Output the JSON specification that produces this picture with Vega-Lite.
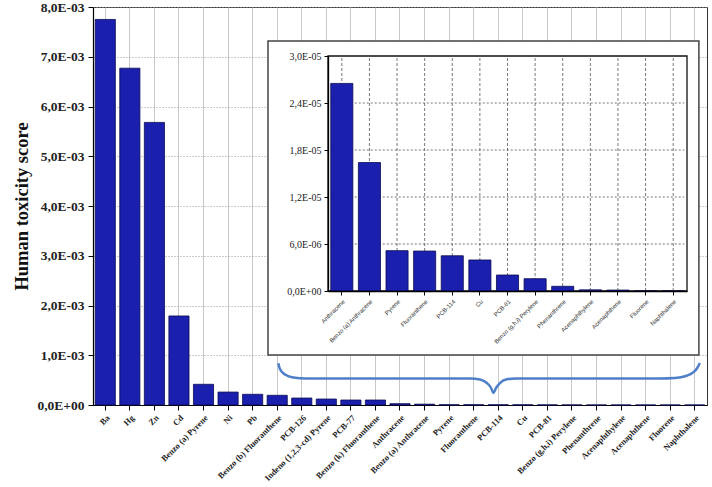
{
  "$schema": "https://vega.github.io/schema/vega-lite/v6.json",
  "width": 614,
  "height": 398,
  "autosize": {"type": "none"},
  "padding": {"left": 93, "top": 7, "right": 5, "bottom": 82},
  "background": "white",
  "config": {"view": {"stroke": "#333", "strokeWidth": 1}, "font": "Liberation Serif"},
  "datasets": {
    "main": [
      {"name": "Ba", "value": 0.00775},
      {"name": "Hg", "value": 0.00677},
      {"name": "Zn", "value": 0.00568},
      {"name": "Cd", "value": 0.00179},
      {"name": "Benzo (a) Pyrene", "value": 0.000416},
      {"name": "Ni", "value": 0.00026},
      {"name": "Pb", "value": 0.000215},
      {"name": "Benzo (b) Fluoranthene", "value": 0.000195},
      {"name": "PCB-126", "value": 0.00014},
      {"name": "Indeno (1,2,3-cd) Pyrene", "value": 0.00012},
      {"name": "PCB-77", "value": 0.0001},
      {"name": "Benzo (k) Fluoranthene", "value": 0.0001},
      {"name": "Anthracene", "value": 0.0000265},
      {"name": "Benzo (a) Anthracene", "value": 0.0000164},
      {"name": "Pyrene", "value": 0.00000515},
      {"name": "Fluoranthene", "value": 0.0000051},
      {"name": "PCB-114", "value": 0.0000045},
      {"name": "Cu", "value": 0.00000396},
      {"name": "PCB-81", "value": 0.00000204},
      {"name": "Benzo (g,h,i) Perylene", "value": 0.00000157},
      {"name": "Phenanthrene", "value": 0.0000006},
      {"name": "Acenaphthylene", "value": 0.00000015},
      {"name": "Acenaphthene", "value": 0.00000012},
      {"name": "Fluorene", "value": 0.00000002},
      {"name": "Naphthalene", "value": 0.00000001}
    ],
    "insetTicks": [{"t": 0.000006}, {"t": 0.000012}, {"t": 0.000018}, {"t": 0.000024}],
    "frames": [
      {"part": "frame", "x": 7.125, "x2": 24.67, "y": 0.007317, "y2": 0.001005},
      {"part": "box", "x": 9.568, "x2": 24.186, "y": 0.007015, "y2": 0.002291}
    ],
    "brace": [
      {"u": 7.545, "v": 0.000838},
      {"u": 7.594, "v": 0.000744},
      {"u": 7.696, "v": 0.000663},
      {"u": 7.858, "v": 0.000603},
      {"u": 8.103, "v": 0.000557},
      {"u": 8.428, "v": 0.000539},
      {"u": 8.835, "v": 0.000533},
      {"u": 15.35, "v": 0.000533},
      {"u": 15.76, "v": 0.000513},
      {"u": 16.04, "v": 0.000442},
      {"u": 16.21, "v": 0.000342},
      {"u": 16.30, "v": 0.000241},
      {"u": 16.41, "v": 0.000342},
      {"u": 16.57, "v": 0.000442},
      {"u": 16.82, "v": 0.000513},
      {"u": 17.22, "v": 0.000533},
      {"u": 23.09, "v": 0.000533},
      {"u": 23.70, "v": 0.000543},
      {"u": 24.14, "v": 0.000583},
      {"u": 24.43, "v": 0.000653},
      {"u": 24.59, "v": 0.000734},
      {"u": 24.71, "v": 0.000844}
    ]
  },
  "layer": [
    {
      "layer": [
        {
          "data": {"name": "main"},
          "mark": {"type": "bar", "fill": "#1a1fae", "stroke": "#0b0b50", "strokeWidth": 0.8},
          "encoding": {
            "x": {
              "field": "name", "type": "nominal", "sort": null,
              "scale": {"paddingInner": 0.18, "paddingOuter": 0.09},
              "axis": {
                "title": null, "labelAngle": -45, "labelFontSize": 8.5, "labelFontWeight": "bold",
                "labelFont": "Liberation Serif", "labelColor": "#222", "labelPadding": 3,
                "tickSize": 5, "tickColor": "#000", "domainColor": "#000", "domainWidth": 1.2,
                "grid": true, "gridColor": "#c8c8c8", "gridWidth": 1
              }
            },
            "y": {
              "field": "value", "type": "quantitative",
              "scale": {"domain": [0, 0.008], "nice": false},
              "axis": {
                "title": "Human toxicity score",
                "titleFont": "Liberation Serif", "titleFontSize": 18.5, "titleFontWeight": "bold", "titleColor": "#111",
                "titlePadding": 5,
                "values": [0, 0.0005, 0.001, 0.0015, 0.002, 0.0025, 0.003, 0.0035, 0.004, 0.0045, 0.005, 0.0055, 0.006, 0.0065, 0.007, 0.0075, 0.008],
                "labelExpr": "round(datum.value*2000) % 2 == 1 ? '' : (datum.value == 0 ? '0,0E+00' : replace(format(datum.value*1000, '.1f'), '.', ',') + 'E-03')",
                "labelFont": "Liberation Serif", "labelFontSize": 13.5, "labelFontWeight": "bold", "labelColor": "#222",
                "labelPadding": 4,
                "tickSize": {"condition": {"test": "round(datum.value*2000) % 2 == 1", "value": 3}, "value": 5},
                "tickColor": "#000", "domainColor": "#000", "domainWidth": 1.2,
                "grid": true, "gridColor": "#999", "gridDash": [1, 2],
                "gridOpacity": {"condition": {"test": "round(datum.value*2000) % 2 == 1", "value": 0}, "value": 1}
              }
            }
          }
        },
        {
          "layer": [
            {
              "data": {"name": "frames"},
              "transform": [{"filter": "datum.part == 'frame'"}],
              "mark": {"type": "rect", "fill": "white", "stroke": "#444", "strokeWidth": 1.5},
              "encoding": {
                "x": {"field": "x", "type": "quantitative", "scale": {"domain": [0, 25], "nice": false, "zero": false}, "axis": null},
                "x2": {"field": "x2"},
                "y": {"field": "y", "type": "quantitative", "title": "Human toxicity score"},
                "y2": {"field": "y2"}
              }
            },
            {
              "data": {"name": "frames"},
              "transform": [{"filter": "datum.part == 'box'"}],
              "mark": {"type": "rect", "fill": null, "stroke": "#111", "strokeWidth": 1.3},
              "encoding": {
                "x": {"field": "x", "type": "quantitative"},
                "x2": {"field": "x2"},
                "y": {"field": "y", "type": "quantitative", "title": "Human toxicity score"},
                "y2": {"field": "y2"}
              }
            },
            {
              "data": {"name": "brace"},
              "mark": {"type": "line", "color": "#4f7fc8", "strokeWidth": 2.5, "interpolate": "monotone"},
              "encoding": {
                "x": {"field": "u", "type": "quantitative"},
                "y": {"field": "v", "type": "quantitative", "title": "Human toxicity score"}
              }
            }
          ]
        }
      ],
      "resolve": {"scale": {"x": "independent"}, "axis": {"x": "independent"}}
    },
    {
      "layer": [
        {
          "data": {"name": "main"},
          "transform": [{"filter": "datum.value < 0.00005"}],
          "mark": {"type": "rule", "color": "#555", "strokeDash": [3, 2], "strokeWidth": 0.8},
          "encoding": {
            "x": {
              "field": "name", "type": "nominal", "sort": null,
              "scale": {
                "domain": ["Anthracene", "Benzo (a) Anthracene", "Pyrene", "Fluoranthene", "PCB-114", "Cu", "PCB-81", "Benzo (g,h,i) Perylene", "Phenanthrene", "Acenaphthylene", "Acenaphthene", "Fluorene", "Naphthalene"],
                "range": [235, 594], "paddingInner": 0.2, "paddingOuter": 0.1
              },
              "axis": {
                "title": null, "orient": "bottom", "offset": -114, "zindex": 1,
                "labelAngle": -45, "labelFontSize": 6, "labelFont": "Liberation Sans", "labelColor": "#333",
                "labelPadding": 3, "tickSize": 4, "tickColor": "#000", "domainColor": "#000", "domainWidth": 1.3, "grid": false
              }
            },
            "y": {
              "datum": 0, "type": "quantitative",
              "scale": {"domain": [0, 0.00003], "range": [284, 49], "nice": false},
              "axis": {
                "title": null, "orient": "left", "offset": -235, "zindex": 1,
                "values": [0, 0.000006, 0.000012, 0.000018, 0.000024, 0.00003],
                "labelExpr": "datum.value == 0 ? '0,0E+00' : (datum.value < 0.00001 ? replace(format(datum.value*1000000, '.1f'), '.', ',') + 'E-06' : replace(format(datum.value*100000, '.1f'), '.', ',') + 'E-05')",
                "labelFont": "Liberation Serif", "labelFontSize": 10, "labelColor": "#222", "labelPadding": 3,
                "tickSize": 4, "tickColor": "#000", "domainColor": "#000", "domainWidth": 1.3, "grid": false
              }
            },
            "y2": {"datum": 0.00003}
          }
        },
        {
          "data": {"name": "insetTicks"},
          "mark": {"type": "rule", "color": "#555", "strokeDash": [2, 2], "strokeWidth": 0.8},
          "encoding": {
            "y": {"field": "t", "type": "quantitative"},
            "x": {"datum": "Anthracene", "type": "nominal", "bandPosition": 0},
            "x2": {"datum": "Naphthalene", "bandPosition": 1}
          }
        },
        {
          "data": {"name": "main"},
          "transform": [{"filter": "datum.value < 0.00005"}],
          "mark": {"type": "bar", "fill": "#1a1fae", "stroke": "#0b0b50", "strokeWidth": 0.8},
          "encoding": {
            "x": {"field": "name", "type": "nominal", "sort": null},
            "y": {"field": "value", "type": "quantitative"}
          }
        }
      ]
    }
  ],
  "resolve": {"scale": {"x": "independent", "y": "independent"}}
}
